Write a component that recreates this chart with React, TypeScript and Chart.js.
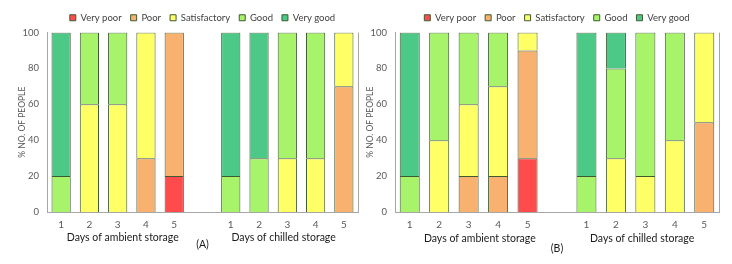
import React, { useEffect, useRef } from "react";
import { Chart, registerables } from "chart.js";

Chart.register(...registerables);

// ---------- data ----------
const CATEGORIES = ["1", "2", "3", "4", "5", "", "1", "2", "3", "4", "5"];
const SERIES_NAMES = ["Very poor", "Poor", "Satisfactory", "Good", "Very good"];
const SERIES_COLORS = ["#FF4B4B", "#F9B16F", "#FFFF66", "#A7F46B", "#4CC887"];
const GROUP_TITLES = ["Days of ambient storage", "Days of chilled storage"];
const Y_TICKS = [0, 20, 40, 60, 80, 100];
const Y_TITLE = "% NO. OF PEOPLE";

const _ = null;
// Panel (A)
const A_VERY_POOR = [_, _, _, _, 20, _, _, _, _, _, _];
const A_POOR = [_, _, _, 30, 80, _, _, _, _, _, 70];
const A_SATISFACTORY = [_, 60, 60, 70, _, _, _, _, 30, 30, 30];
const A_GOOD = [20, 40, 40, _, _, _, 20, 30, 70, 70, _];
const A_VERY_GOOD = [80, _, _, _, _, _, 80, 70, _, _, _];

// Panel (B)
const B_VERY_POOR = [_, _, _, _, 30, _, _, _, _, _, _];
const B_POOR = [_, _, 20, 20, 60, _, _, _, _, _, 50];
const B_SATISFACTORY = [_, 40, 40, 50, 10, _, _, 30, 20, 40, 50];
const B_GOOD = [20, 60, 40, 30, _, _, 20, 50, 80, 60, _];
const B_VERY_GOOD = [80, _, _, _, _, _, 80, 20, _, _, _];

const FONT = "Lato, 'Open Sans', sans-serif";
const BAR_BORDER = "#3F5A33";
const AXIS_GREY = "#A6A6A6";

type Geo = {
  left: number;
  width: number;
  padLeft: number;
  padRight: number;
  yWidth: number;
  titlePos: number[]; // category-index positions for the two group titles
  titleDy: number;
  labelDy: number;
};

function Panel(props: { series: (number | null)[][]; label: string; geo: Geo }) {
  const ref = useRef<HTMLCanvasElement | null>(null);
  useEffect(() => {
    const canvas = ref.current;
    if (!canvas) return;
    const { geo, series, label } = props;

    const extras = {
      id: "extras",
      beforeInit(chart: any) {
        const lg = chart.legend;
        if (lg) {
          const orig = lg.fit;
          lg.fit = function () {
            orig.call(this);
            this.height = 28.5;
          };
        }
      },
      afterDraw(chart: any) {
        const ctx = chart.ctx;
        const area = chart.chartArea;
        const x = chart.scales.x;
        ctx.save();
        // right frame line
        ctx.strokeStyle = AXIS_GREY;
        ctx.lineWidth = 1;
        ctx.beginPath();
        ctx.moveTo(Math.round(area.right) + 0.5, area.top);
        ctx.lineTo(Math.round(area.right) + 0.5, area.bottom);
        ctx.stroke();
        // group titles
        ctx.fillStyle = "#1a1a1a";
        ctx.font = `10.5px ${FONT}`;
        ctx.textAlign = "center";
        ctx.textBaseline = "middle";
        GROUP_TITLES.forEach((t, i) => {
          ctx.fillText(t, x.getPixelForValue(geo.titlePos[i]), area.bottom + geo.titleDy);
        });
        ctx.fillText(label, x.getPixelForValue(5), area.bottom + geo.labelDy);
        ctx.restore();
      },
    };

    const chart = new Chart(canvas, {
      type: "bar",
      data: {
        labels: CATEGORIES,
        datasets: SERIES_NAMES.map((name, i) => ({
          label: name,
          data: series[i],
          backgroundColor: SERIES_COLORS[i],
          borderColor: BAR_BORDER,
          borderWidth: 1,
          borderSkipped: "start",
          categoryPercentage: 1,
          barPercentage: 0.68,
        })),
      },
      options: {
        responsive: false,
        animation: false,
        devicePixelRatio: 1,
        layout: { padding: { left: geo.padLeft, right: geo.padRight, top: 4, bottom: 0 } },
        plugins: {
          tooltip: { enabled: false },
          legend: {
            position: "top",
            fullSize: false,
            labels: {
              boxWidth: 6,
              boxHeight: 6,
              padding: 9,
              color: "#404040",
              font: { family: FONT, size: 9.5 },
            },
          },
        },
        scales: {
          x: {
            stacked: true,
            grid: { display: false, drawTicks: false },
            border: { display: true, color: AXIS_GREY },
            ticks: { color: "#595959", font: { family: FONT, size: 10 }, padding: 7, maxRotation: 0, autoSkip: false },
            afterFit: (s: any) => {
              s.height = 52;
            },
          },
          y: {
            stacked: true,
            min: 0,
            max: 100,
            grid: { display: false, drawTicks: false },
            border: { display: true, color: AXIS_GREY },
            afterBuildTicks: (s: any) => {
              s.ticks = Y_TICKS.map((v) => ({ value: v }));
            },
            ticks: { color: "#595959", font: { family: FONT, size: 9.5 }, padding: 8 },
            title: {
              display: true,
              text: Y_TITLE,
              color: "#595959",
              font: { family: FONT, size: 8.5 },
              padding: 0,
            },
            afterFit: (s: any) => {
              s.width = geo.yWidth;
            },
          },
        },
      },
      plugins: [extras],
    } as any);
    return () => chart.destroy();
  }, []);
  return (
    <canvas
      ref={ref}
      width={props.geo.width}
      height={264}
      style={{ position: "absolute", left: props.geo.left, top: 0, width: props.geo.width, height: 264 }}
    />
  );
}

const GEO_A: Geo = {
  left: 0,
  width: 366,
  padLeft: 16.9,
  padRight: 8,
  yWidth: 30.1,
  titlePos: [2.18, 7.87],
  titleDy: 26,
  labelDy: 33,
};
const GEO_B: Geo = {
  left: 362,
  width: 370,
  padLeft: 3.4,
  padRight: 13,
  yWidth: 29.6,
  titlePos: [2.38, 7.89],
  titleDy: 27,
  labelDy: 37,
};

export default function App() {
  return (
    <div style={{ position: "fixed", left: 0, top: 0, width: 732, height: 264, background: "#fff" }}>
      <Panel series={[A_VERY_POOR, A_POOR, A_SATISFACTORY, A_GOOD, A_VERY_GOOD]} label="(A)" geo={GEO_A} />
      <Panel series={[B_VERY_POOR, B_POOR, B_SATISFACTORY, B_GOOD, B_VERY_GOOD]} label="(B)" geo={GEO_B} />
    </div>
  );
}
